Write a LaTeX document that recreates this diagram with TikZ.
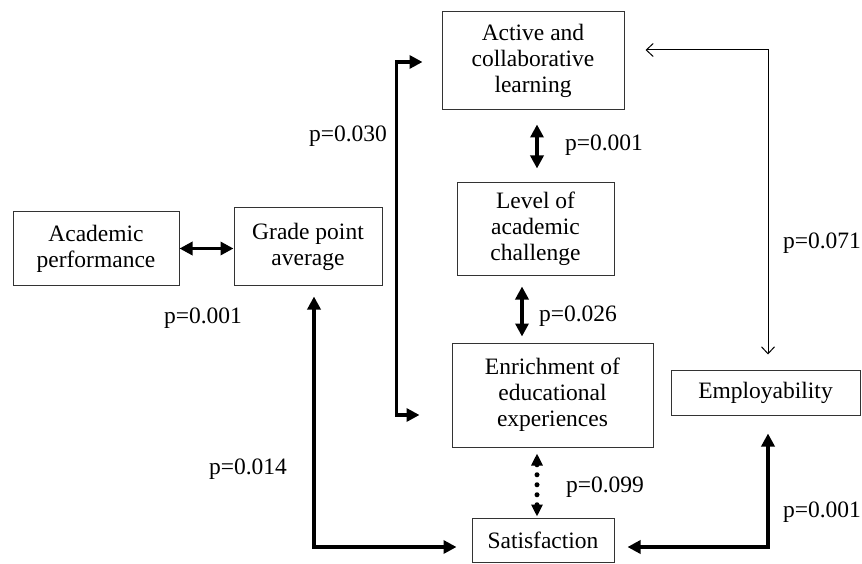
\documentclass[tikz,border=0pt]{standalone}
\usepackage{fontspec}
\setmainfont{Liberation Serif}
\usetikzlibrary{arrows.meta}

\begin{document}
\begin{tikzpicture}[
  x=1pt, y=-1pt,
  font=\fontsize{23.5}{26}\selectfont,
  box/.style={draw=black!80, line width=1pt, align=center, inner sep=2pt},
  link/.style={line width=3.5pt, {Triangle[length=13pt,width=13pt]}-{Triangle[length=13pt,width=13pt]}},
  dotlink/.style={line width=5pt, line cap=round, dash pattern=on 0pt off 10pt,
                  {Triangle[length=12pt,width=11pt]}-{Triangle[length=12pt,width=11pt]}},
  thinlink/.style={line width=1pt, {Straight Barb[length=7pt,width=13pt]}-{Straight Barb[length=7pt,width=13pt]}},
  pval/.style={inner sep=0pt}
]
\useasboundingbox (0,0) rectangle (862,564);

% boxes
\node[box, minimum width=166, minimum height=73] (acad) at (96,248.5) {Academic\\performance};
\node[box, minimum width=148, minimum height=77] (gpa) at (308,246.5) {Grade point\\average};
\node[box, minimum width=182, minimum height=98] (active) at (533,61) {Active and\\collaborative\\learning};
\node[box, minimum width=157, minimum height=92] (level) at (535.5,229) {Level of\\academic\\challenge};
\node[box, minimum width=201, minimum height=104] (enrich) at (552.5,395) {Enrichment of\\educational\\experiences};
\node[box, minimum width=189, minimum height=45] (employ) at (765.5,392.5) {Employability};
\node[box, minimum width=142, minimum height=44] (satis) at (543,540) {Satisfaction};

% connectors
\draw[link] (acad.east) -- (acad.east -| gpa.west);
\draw[link, shorten <=14pt, shorten >=14pt] ([xshift=4pt]active.south) -- ([xshift=4pt]active.south |- level.north);
\draw[link, shorten <=11pt, shorten >=6pt] ([xshift=-13.5pt]level.south) -- ([xshift=-13.5pt]level.south |- enrich.north);
\draw[dotlink, shorten <=6pt, shorten >=1pt] ([xshift=-15.5pt]enrich.south) -- ([xshift=-15.5pt]enrich.south |- satis.north);
\draw[link] ([xshift=-19pt,yshift=-1pt]active.west) -- ++(-26,0) |- ([xshift=-32pt,yshift=-20pt]enrich.west);
\draw[link] ([xshift=6pt,yshift=-11pt]gpa.south) |- ([xshift=-15pt,yshift=-7pt]satis.west);
\draw[link] ([xshift=13pt,yshift=-7pt]satis.east) -| ([xshift=2.5pt,yshift=-18pt]employ.south);
\draw[thinlink] ([xshift=21pt,yshift=11pt]active.east) -| ([xshift=2.5pt,yshift=15pt]employ.north);

% p-values
\node[pval] (pGpaAct) at (348,136) {p=0.030};
\node[pval] (pActLev) at (604,145) {p=0.001};
\node[pval] (pActEmp) at (822,243) {p=0.071};
\node[pval] (pAcadGpa) at (203,318) {p=0.001};
\node[pval] (pLevEnr) at (578,316) {p=0.026};
\node[pval] (pGpaSat) at (248,469) {p=0.014};
\node[pval] (pEnrSat) at (605,487) {p=0.099};
\node[pval] (pSatEmp) at (822,512) {p=0.001};
\end{tikzpicture}
\end{document}
